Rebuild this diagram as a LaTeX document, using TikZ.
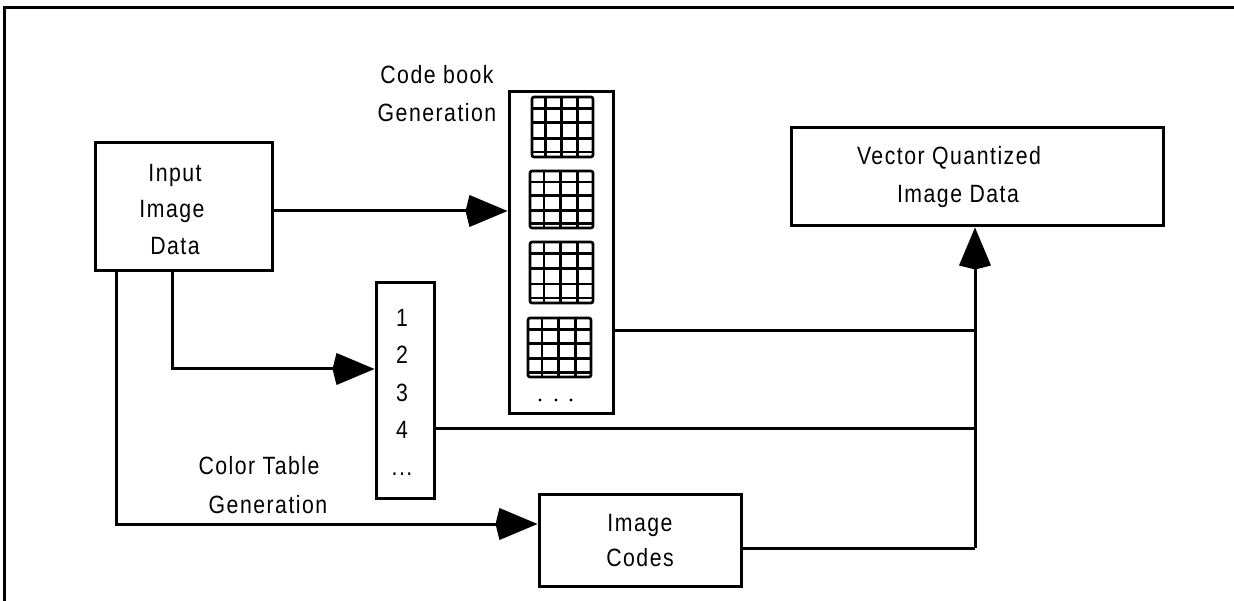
\documentclass[tikz,border=0pt]{standalone}
\usepackage{fontspec}
\setmainfont[FakeStretch=0.85,LetterSpace=6]{Liberation Sans}
\usetikzlibrary{arrows.meta}
\tikzset{
  box/.style={draw, line width=3pt, inner sep=0pt},
  lbl/.style={anchor=base, inner sep=0pt, font=\fontsize{25}{30}\selectfont},
  wire/.style={line width=3pt},
  tip/.style={-{Kite[length=42pt,width=32pt,inset=4pt]}},
  gridln/.style={line width=2.6pt},
}
% draws one code book entry: a 4x4 grid with an extra line near the bottom
\newcommand{\cbgrid}[4]{%
  \draw[gridln, rounded corners=2pt] (#1,#2) rectangle (#3,#4);
  \foreach \f in {0.22,0.48,0.75}{
    \draw[gridln] ({#1+\f*(#3-#1)},#2) -- ({#1+\f*(#3-#1)},#4);}
  \foreach \f in {0.19,0.43,0.69,0.92}{
    \draw[gridln] (#1,{#2+\f*(#4-#2)}) -- (#3,{#2+\f*(#4-#2)});}
}
\begin{document}
\begin{tikzpicture}[x=1pt,y=-1pt]
\useasboundingbox (0,0) rectangle (1234,601);
% outer frame (top and left edges)
\draw[line width=3pt] (4,601) -- (4,8) -- (1234,8);

% input box
\node[box, minimum width=177pt, minimum height=128pt] (in) at (183.5,207) {};
\node[lbl] (in1) at (175,182) {Input};
\node[lbl] (in2) at (172,218) {Image};
\node[lbl] (in3) at (175,255) {Data};

% code book column
\node[box, minimum width=104pt, minimum height=321pt] (cb) at (561,252.5) {};
\cbgrid{532}{97}{593}{157}
\cbgrid{530}{171}{593}{228}
\cbgrid{530}{242}{593}{303}
\cbgrid{528}{318}{591}{377}
\foreach \x in {540,556,571}{\fill (\x,400) circle (1.6pt);}
\node[lbl] (cbt1) at (437,84) {Code book};
\node[lbl] (cbt2) at (437,122) {Generation};

% color table column
\node[box, minimum width=58pt, minimum height=215pt] (ct) at (405,390.5) {};
\node[lbl] (n1) at (402,327) {1};
\node[lbl] (n2) at (402,364) {2};
\node[lbl] (n3) at (402,402) {3};
\node[lbl] (n4) at (402,438) {4};
\node[lbl] (n5) at (402,475) {...};
\node[lbl] (ctt1) at (259,474) {Color Table};
\node[lbl] (ctt2) at (268,513) {Generation};

% image codes box
\node[box, minimum width=202pt, minimum height=92pt] (ic) at (640,540) {};
\node[lbl] (ic1) at (640,531) {Image};
\node[lbl] (ic2) at (640,566) {Codes};

% vector quantized output box
\node[box, minimum width=372pt, minimum height=98pt] (vq) at (977,177) {};
\node[lbl] (vq1) at (949,165) {Vector Quantized};
\node[lbl] (vq2) at (958,203) {Image Data};

% connectors
\coordinate (j1) at (975,331);
\coordinate (j2) at (975,428);
\coordinate (j3) at (975,548);
\draw[wire, tip] (in.east |- 0,211) -- (cb.west |- 0,211);
\draw[wire, tip] (172,271) -- (172,369) -- (ct.west |- 0,369);
\draw[wire, tip] (116,271) -- (116,524) -- (ic.west |- 0,524);
\draw[wire] (cb.east |- j1) -- (j1);
\draw[wire] (ct.east |- j2) -- (j2);
\draw[wire] (ic.east |- j3) -- (j3);
\draw[wire, tip] (j3) -- (vq.south -| j3);
\end{tikzpicture}
\end{document}
